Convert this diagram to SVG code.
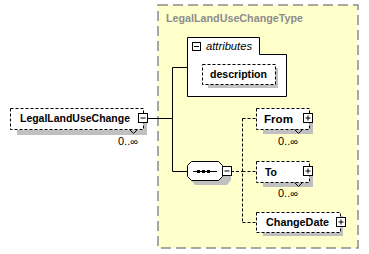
<svg xmlns="http://www.w3.org/2000/svg" width="369" height="254" viewBox="0 0 369 254">
  <style>
    .type { fill: #ffffcc; stroke: #8c8c8c; stroke-width: 1.5; stroke-dasharray: 10 5; }
    .elem { fill: #ffffff; stroke: #000; stroke-width: 1; stroke-dasharray: 3 2; }
    .shadow { fill: #c0c0c0; }
    .solid { fill: #ffffff; stroke: #000; stroke-width: 1; }
    .btn { fill: #ffffff; stroke: #000; stroke-width: 1; }
    .sym { stroke: #000; stroke-width: 1; fill: none; }
    .line { stroke: #000; stroke-width: 1; fill: none; }
    .dline { stroke: #000; stroke-width: 1; fill: none; stroke-dasharray: 3 2; }
    .name { font-family: "Liberation Sans", Arial, sans-serif; font-size: 11px; font-weight: bold; fill: #000; }
    .occ { font-family: "Liberation Sans", Arial, sans-serif; font-size: 10px; fill: #000; }
    .title { font-family: "Liberation Sans", Arial, sans-serif; font-size: 11px; font-weight: bold; fill: #8c8c8c; }
    .attrs { font-family: "Liberation Sans", Arial, sans-serif; font-size: 11px; font-style: italic; fill: #000; }
  </style>
  <rect width="369" height="254" fill="#ffffff"/>

  <!-- complex type frame -->
  <g id="LegalLandUseChangeType">
    <rect class="type" x="158" y="5" width="200" height="243"/>
    <text class="title" x="166" y="22" textLength="137" lengthAdjust="spacingAndGlyphs">LegalLandUseChangeType</text>
  </g>

  <!-- connectors -->
  <g id="connectors">
    <path class="line" d="M147.5 118.5 H172.5 M172.5 67.5 V171.5 M172.5 67.5 H187 M172.5 171.5 H187"/>
    <path class="dline" d="M231 171.5 H242.5 M242.5 118.5 V222.5 M242.5 118.5 H256 M242.5 171.5 H256 M242.5 222.5 H256"/>
  </g>

  <!-- root element -->
  <g id="LegalLandUseChange">
    <rect class="shadow" x="17" y="130" width="129" height="5"/>
    <rect class="shadow" x="143" y="113" width="4" height="22"/>
    <rect class="elem" x="10.5" y="108.5" width="133" height="21"/>
    <path class="sym" d="M129.5 129.5 L133.5 133.5 L137.5 129.5"/>
    <rect class="btn" x="138.5" y="113.5" width="9" height="9"/>
    <path class="sym" d="M140.5 118 H145.5"/>
    <text class="name" x="20" y="122" textLength="110" lengthAdjust="spacingAndGlyphs">LegalLandUseChange</text>
    <text class="occ" x="118" y="145" textLength="20" lengthAdjust="spacingAndGlyphs">0..∞</text>
  </g>

  <!-- attribute group -->
  <g id="attributes">
    <path class="solid" d="M187.5 37.5 H259.5 V54.5 H286.5 V96.5 H187.5 Z"/>
    <rect class="btn" x="192.5" y="42.5" width="8" height="8"/>
    <path class="sym" d="M194 46.5 H199"/>
    <text class="attrs" x="206" y="50" textLength="46" lengthAdjust="spacingAndGlyphs">attributes</text>
  </g>

  <g id="description">
    <rect class="shadow" x="208" y="84" width="70" height="4"/>
    <rect class="shadow" x="275" y="68" width="3" height="20"/>
    <rect class="elem" x="202.5" y="64.5" width="73" height="20"/>
    <text class="name" x="210" y="78" textLength="57" lengthAdjust="spacingAndGlyphs">description</text>
  </g>

  <!-- sequence compositor -->
  <g id="sequence">
    <path class="shadow" d="M195 166 H227 L231 170 V180 L227 185 H195 L191 180 V170 Z"/>
    <path class="solid" d="M191.5 161.5 H218.5 L222.5 165.5 V176.5 L218.5 180.5 H191.5 L187.5 176.5 V165.5 Z"/>
    <path class="line" d="M193 171.5 H217"/>
    <rect x="197" y="170" width="3" height="3" fill="#000"/>
    <rect x="202" y="170" width="3" height="3" fill="#000"/>
    <rect x="207" y="170" width="3" height="3" fill="#000"/>
    <rect class="btn" x="222.5" y="166.5" width="9" height="9"/>
    <path class="sym" d="M224.5 171 H229.5"/>
  </g>

  <!-- child elements -->
  <g id="From">
    <rect class="shadow" x="263" y="129" width="50" height="5"/>
    <rect class="shadow" x="309" y="113" width="4" height="21"/>
    <rect class="elem" x="256.5" y="108.5" width="53" height="21"/>
    <path class="sym" d="M294.5 129.5 L298.5 133.5 L302.5 129.5"/>
    <rect class="btn" x="303.5" y="113.5" width="9" height="9"/>
    <path class="sym" d="M305.5 118 H310.5 M308 115.5 V120.5"/>
    <text class="name" x="264" y="123" textLength="29" lengthAdjust="spacingAndGlyphs">From</text>
    <text class="occ" x="278" y="145" textLength="20" lengthAdjust="spacingAndGlyphs">0..∞</text>
  </g>

  <g id="To">
    <rect class="shadow" x="263" y="182" width="50" height="5"/>
    <rect class="shadow" x="309" y="166" width="4" height="21"/>
    <rect class="elem" x="256.5" y="161.5" width="53" height="21"/>
    <path class="sym" d="M294.5 182.5 L298.5 186.5 L302.5 182.5"/>
    <rect class="btn" x="303.5" y="166.5" width="9" height="9"/>
    <path class="sym" d="M305.5 171 H310.5 M308 168.5 V173.5"/>
    <text class="name" x="265" y="176" textLength="12" lengthAdjust="spacingAndGlyphs">To</text>
    <text class="occ" x="278" y="197" textLength="20" lengthAdjust="spacingAndGlyphs">0..∞</text>
  </g>

  <g id="ChangeDate">
    <rect class="shadow" x="263" y="232" width="78" height="4"/>
    <rect class="shadow" x="340" y="216" width="3" height="20"/>
    <rect class="elem" x="256.5" y="212.5" width="84" height="20"/>
    <rect class="btn" x="336.5" y="217.5" width="9" height="9"/>
    <path class="sym" d="M338.5 222 H343.5 M341 219.5 V224.5"/>
    <text class="name" x="266" y="226" textLength="63" lengthAdjust="spacingAndGlyphs">ChangeDate</text>
  </g>
</svg>
